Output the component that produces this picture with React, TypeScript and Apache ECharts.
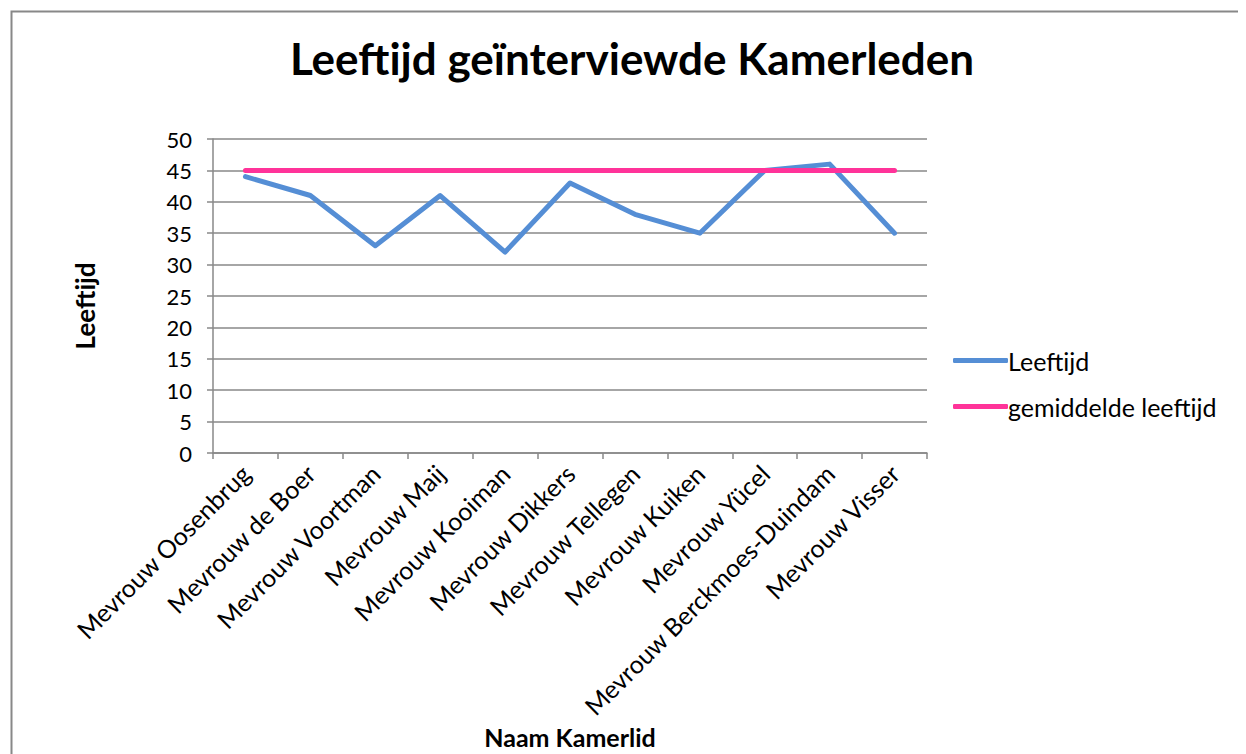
import React, { useEffect, useRef } from "react";
import * as echarts from "echarts";

const categories = [
  "Mevrouw Oosenbrug",
  "Mevrouw de Boer",
  "Mevrouw Voortman",
  "Mevrouw Maij",
  "Mevrouw Kooiman",
  "Mevrouw Dikkers",
  "Mevrouw Tellegen",
  "Mevrouw Kuiken",
  "Mevrouw Yücel",
  "Mevrouw Berckmoes-Duindam",
  "Mevrouw Visser",
];
const leeftijd = [44, 41, 33, 41, 32, 43, 38, 35, 45, 46, 35];
const gemiddelde = [45, 45, 45, 45, 45, 45, 45, 45, 45, 45, 45];

const FONT = "Lato, 'Open Sans', sans-serif";

export default function App() {
  const ref = useRef<HTMLDivElement>(null);
  useEffect(() => {
    if (!ref.current) return;
    const chart = echarts.init(ref.current, undefined, { renderer: "svg" });
    chart.setOption({
      animation: false,
      backgroundColor: "#ffffff",
      textStyle: { fontFamily: FONT },
      title: {
        text: "Leeftijd geïnterviewde Kamerleden",
        left: 619,
        top: 23,
        textAlign: "center",
        textStyle: { fontSize: 44, fontWeight: "bold", color: "#000", fontFamily: FONT },
      },
      grid: { left: 205, top: 131, right: 319, bottom: 301, containLabel: false },
      legend: {
        orient: "vertical",
        left: 940,
        top: 335,
        itemWidth: 55,
        itemHeight: 5,
        itemGap: 21,
        icon: "roundRect",
        textStyle: { fontSize: 25, color: "#000", fontFamily: FONT, padding: [0, 0, 0, -5] },
        data: ["Leeftijd", "gemiddelde leeftijd"],
      },
      xAxis: {
        type: "category",
        data: categories,
        boundaryGap: true,
        axisLine: { lineStyle: { color: "#888", width: 1.5 } },
        axisTick: { show: true, length: 6, lineStyle: { color: "#888", width: 1.5 } },
        axisLabel: { rotate: 45, fontSize: 25, color: "#000", margin: 16, interval: 0, fontFamily: FONT },
        splitLine: { show: false },
      },
      yAxis: {
        type: "value",
        min: 0,
        max: 50,
        interval: 5,
        axisLine: { show: true, lineStyle: { color: "#888", width: 1.5 } },
        axisTick: { show: true, length: 6, lineStyle: { color: "#888", width: 1.5 } },
        axisLabel: { fontSize: 22, color: "#000", margin: 21, fontFamily: FONT },
        splitLine: { lineStyle: { color: "#888", width: 1.5 } },
      },
      series: [
        {
          name: "Leeftijd",
          type: "line",
          data: leeftijd,
          showSymbol: false,
          symbol: "none",
          lineStyle: { color: "#558ED5", width: 5, cap: "round", join: "round" },
          itemStyle: { color: "#558ED5" },
        },
        {
          name: "gemiddelde leeftijd",
          type: "line",
          data: gemiddelde,
          showSymbol: false,
          symbol: "none",
          lineStyle: { color: "#FF3399", width: 5, cap: "round" },
          itemStyle: { color: "#FF3399" },
        },
      ],
      graphic: [
        {
          type: "rect",
          left: 1,
          top: 1,
          shape: { width: 1400, height: 900 },
          style: { fill: "none", stroke: "#888", lineWidth: 2 },
          silent: true,
        },
        {
          type: "text",
          x: 77,
          y: 298,
          rotation: Math.PI / 2,
          style: {
            text: "Leeftijd",
            fontSize: 26,
            fontWeight: "bold",
            fill: "#000",
            fontFamily: FONT,
            align: "center",
            verticalAlign: "middle",
          },
        },
        {
          type: "text",
          x: 562,
          y: 729,
          style: {
            text: "Naam Kamerlid",
            fontSize: 25,
            fontWeight: "bold",
            fill: "#000",
            fontFamily: FONT,
            align: "center",
            verticalAlign: "middle",
          },
        },
      ],
    });
    return () => chart.dispose();
  }, []);
  return <div ref={ref} style={{ width: 1238, height: 746 }} />;
}
